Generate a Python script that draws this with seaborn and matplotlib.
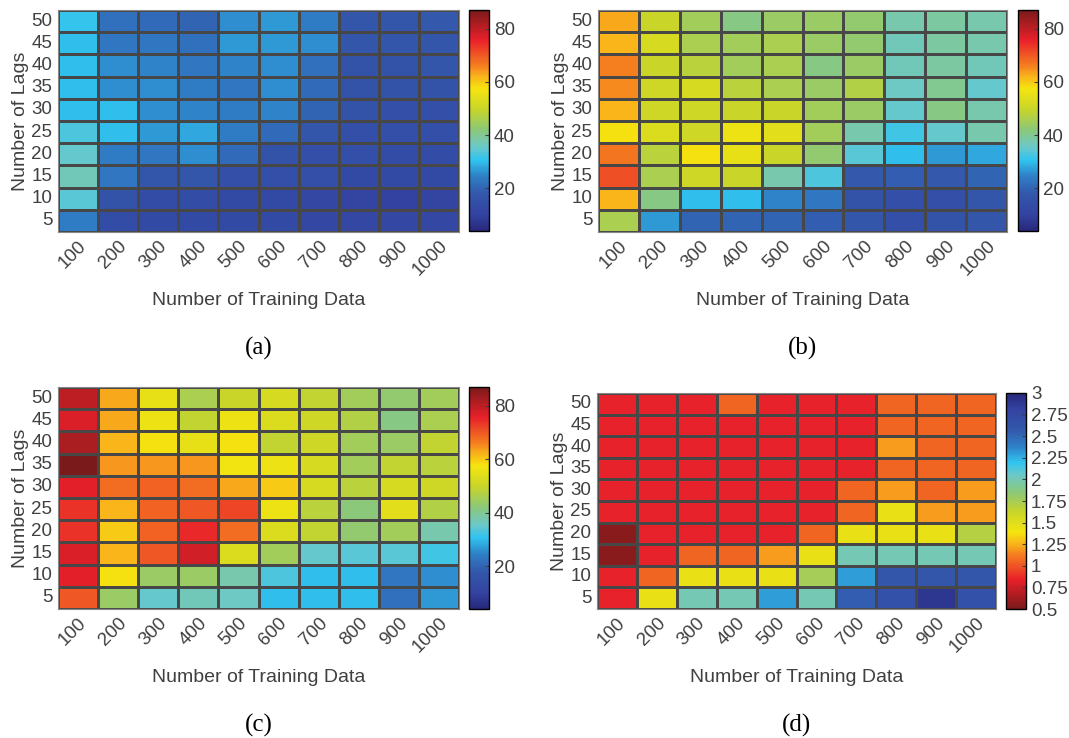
import numpy as np
import pandas as pd
import seaborn as sns
import matplotlib.pyplot as plt
from matplotlib.colors import LinearSegmentedColormap

# axis categories
train_sizes = [100, 200, 300, 400, 500, 600, 700, 800, 900, 1000]
lags = [50, 45, 40, 35, 30, 25, 20, 15, 10, 5]  # top row first

# (a) rows: lag 50 -> 5, columns: training data 100 -> 1000
vals_a = [
    [31, 22, 21, 20, 26, 27, 24, 17, 17, 18],
    [30, 23, 23, 22, 27, 27, 26, 17, 17, 17],
    [30, 26, 25, 23, 25, 26, 22, 16, 16, 17],
    [30, 26, 26, 24, 23, 26, 21, 16, 16, 16],
    [30, 30, 26, 25, 24, 25, 20, 16, 15, 15],
    [33, 30, 27, 28, 24, 21, 17, 15, 15, 15],
    [35, 24, 23, 26, 21, 16, 15, 15, 14, 14],
    [37, 23, 17, 17, 15, 15, 15, 13, 13, 13],
    [34, 16, 14, 14, 13, 13, 12, 11, 10, 11],
    [24, 14, 13, 13, 13, 13, 12, 12, 12, 12],
]

vals_b = [
    [63, 50, 45, 41, 44, 44, 43, 38, 39, 38],
    [62, 52, 46, 45, 46, 44, 43, 37, 39, 38],
    [66, 50, 48, 45, 46, 41, 44, 37, 39, 37],
    [65, 51, 52, 48, 46, 44, 47, 36, 40, 35],
    [62, 51, 51, 50, 50, 45, 44, 35, 41, 38],
    [58, 53, 51, 56, 54, 45, 38, 32, 35, 38],
    [67, 48, 58, 55, 50, 43, 34, 30, 27, 28],
    [71, 46, 51, 50, 38, 33, 18, 19, 18, 20],
    [62, 41, 30, 30, 25, 23, 16, 15, 15, 17],
    [46, 27, 20, 20, 20, 19, 17, 15, 16, 17],
]

vals_c = [
    [80, 63, 55, 46, 50, 52, 49, 45, 43, 45],
    [77, 63, 56, 49, 56, 53, 51, 47, 41, 46],
    [82, 62, 58, 55, 58, 49, 51, 45, 44, 49],
    [87, 64, 64, 64, 57, 56, 52, 45, 49, 48],
    [76, 68, 69, 68, 63, 60, 52, 48, 52, 51],
    [74, 62, 69, 70, 72, 56, 48, 42, 54, 47],
    [74, 60, 69, 75, 68, 53, 49, 43, 45, 38],
    [77, 62, 70, 78, 53, 45, 35, 34, 34, 32],
    [76, 58, 44, 44, 38, 33, 30, 30, 23, 26],
    [70, 44, 35, 37, 36, 30, 30, 30, 22, 27],
]

vals_d = [
    [0.85, 0.85, 0.85, 1.05, 0.85, 0.85, 0.85, 1.05, 1.05, 1.05],
    [0.85, 0.85, 0.85, 0.85, 0.85, 0.85, 0.85, 1.05, 1.05, 1.05],
    [0.85, 0.85, 0.85, 0.85, 0.85, 0.85, 0.85, 1.20, 1.05, 1.05],
    [0.85, 0.85, 0.85, 0.85, 0.85, 0.85, 0.85, 1.05, 1.05, 1.05],
    [0.85, 0.85, 0.85, 0.85, 0.85, 0.85, 1.05, 1.20, 1.05, 1.20],
    [0.85, 0.85, 0.85, 0.85, 0.85, 0.85, 1.05, 1.45, 1.20, 1.20],
    [0.55, 0.85, 0.85, 0.85, 0.85, 1.05, 1.45, 1.45, 1.45, 1.70],
    [0.55, 0.85, 1.05, 1.05, 1.20, 1.45, 2.00, 2.00, 2.00, 2.00],
    [0.85, 1.05, 1.45, 1.45, 1.45, 1.75, 2.30, 2.60, 2.60, 2.60],
    [0.85, 1.45, 2.00, 2.00, 2.30, 2.00, 2.55, 2.65, 2.90, 2.65],
]

# colormap resembling the one in the figure
stops = [
    (0.00, "#27287a"), (0.07, "#3342a0"), (0.17, "#3358ac"), (0.25, "#2f82c8"),
    (0.32, "#30c4f0"), (0.38, "#6cc8c8"), (0.46, "#8cc878"), (0.55, "#c8d52a"),
    (0.645, "#f5e50f"), (0.70, "#f9b31a"), (0.745, "#f5821f"), (0.865, "#e8202a"),
    (1.00, "#7a1a1a"),
]
cmap = LinearSegmentedColormap.from_list("custom_jet", stops)
cmap_r = cmap.reversed()

TXT = "#404040"
plt.rcParams['font.family'] = ['Liberation Sans', 'DejaVu Sans']

W, H = 1069, 738
fig = plt.figure(figsize=(W / 100, H / 100), dpi=100)


def px_rect(left, right, top, bottom):
    return [left / W, 1 - bottom / H, (right - left) / W, (bottom - top) / H]


panels = [
    # values, axes box, colorbar box, vmin, vmax, cmap, ticks, labels, letter
    (vals_a, (58, 459, 10, 232), (469, 489, 10, 231), 4, 87, cmap,
     [20, 40, 60, 80], None, "(a)"),
    (vals_b, (598, 1007, 10, 232), (1018, 1038, 10, 231), 4, 87, cmap,
     [20, 40, 60, 80], None, "(b)"),
    (vals_c, (58, 459, 387, 609), (469, 489, 387, 609), 4, 87, cmap,
     [20, 40, 60, 80], None, "(c)"),
    (vals_d, (597, 996, 393, 609), (1006, 1026, 393, 609), 0.5, 3, cmap_r,
     [0.5, 0.75, 1, 1.25, 1.5, 1.75, 2, 2.25, 2.5, 2.75, 3],
     ["0.5", "0.75", "1", "1.25", "1.5", "1.75", "2", "2.25", "2.5", "2.75", "3"], "(d)"),
]

for vals, box, cbox, vmin, vmax, cm, ticks, ticklabels, letter in panels:
    ax = fig.add_axes(px_rect(*box))
    cax = fig.add_axes(px_rect(*cbox))
    df = pd.DataFrame(vals, index=lags, columns=train_sizes)
    sns.heatmap(df, ax=ax, cbar_ax=cax, cmap=cm, vmin=vmin, vmax=vmax,
                linewidths=0.8, linecolor="#474747",
                cbar_kws={"ticks": ticks})
    ax.set_xticklabels([str(t) for t in train_sizes], rotation=45, ha="right",
                       rotation_mode="anchor", fontsize=13.5, color=TXT)
    ax.set_yticklabels([str(l) for l in lags], rotation=0, fontsize=13.5, color=TXT)
    ax.tick_params(length=0, pad=4)
    ax.set_xlabel("Number of Training Data", fontsize=14, color=TXT, labelpad=9)
    ax.set_ylabel("Number of Lags", fontsize=14, color=TXT, labelpad=2)
    for s in ax.spines.values():
        s.set_visible(True)
        s.set_color("#888888")
        s.set_linewidth(0.8)

    cb = ax.collections[0].colorbar
    if ticklabels is not None:
        cb.set_ticklabels(ticklabels)
    cb.outline.set_visible(True)
    cb.outline.set_edgecolor("black")
    cb.outline.set_linewidth(1.0)
    cax.tick_params(direction="in", length=3, labelsize=13.5, labelcolor=TXT, color=TXT)

    cx = (box[0] + box[1]) / 2
    fig.text(cx / W, 1 - (box[3] + 116) / H, letter, ha="center", va="center",
             fontsize=18, family=["Liberation Serif", "DejaVu Serif"], color="black")

fig.savefig("out.png", dpi=100)
plt.close(fig)
